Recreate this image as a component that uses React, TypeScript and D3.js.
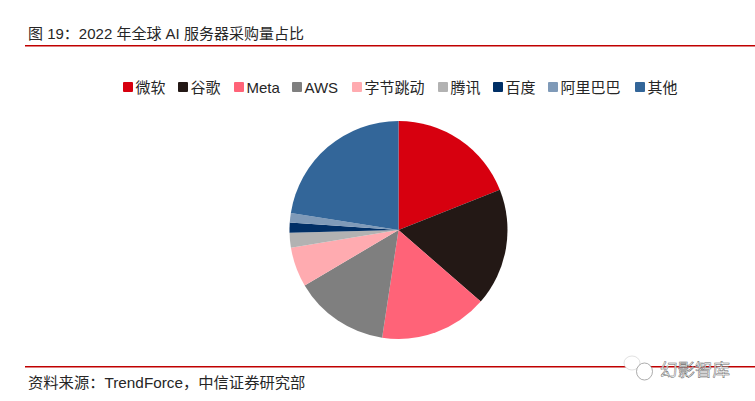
import React from 'react';
import * as d3 from 'd3';

const categories = ['微软', '谷歌', 'Meta', 'AWS', '字节跳动', '腾讯', '百度', '阿里巴巴', '其他'];
const shares = [19, 17.4, 16, 14.1, 5.9, 2.2, 1.5, 1.4, 22.5];
const colors = ['#d7000f', '#231815', '#ff6378', '#7f7f7f', '#ffabb0', '#b2b2b2', '#002f66', '#7f9ab8', '#336699'];
// left edge of each legend swatch
const legendX = [123, 178, 234, 292, 352, 438, 493, 548, 635];

const FONT = '"Liberation Sans", "Noto Sans CJK SC", sans-serif';

const App = () => {
  const pie = d3.pie<number>().sort(null).value(d => d);
  const arc = d3.arc<d3.PieArcDatum<number>>().innerRadius(0).outerRadius(109);
  const arcs = pie(shares);

  return (
    <svg
      width={755}
      height={401}
      style={{ position: 'absolute', left: 0, top: 0, background: '#fff' }}
      fontFamily={FONT}
    >
      <text x={28} y={39} fontSize={15} fill="#262626">图 19：2022 年全球 AI 服务器采购量占比</text>
      <rect x={25} y={45} width={730} height={1.5} fill="#c00000" />

      {categories.map((c, i) => (
        <g key={c}>
          <rect x={legendX[i]} y={82} width={10} height={10} rx={1} fill={colors[i]} />
          <text x={legendX[i] + 12.5} y={92.5} fontSize={15} fill="#262626">{c}</text>
        </g>
      ))}

      <g transform="translate(398.5,230)">
        {arcs.map((d, i) => (
          <path key={categories[i]} d={arc(d) ?? ''} fill={colors[i]} />
        ))}
      </g>

      <rect x={25} y={366} width={730} height={1.5} fill="#c00000" />
      <text x={28} y={388} fontSize={15.3} fill="#262626">资料来源：TrendForce，中信证券研究部</text>

      {/* watermark */}
      <g>
        <ellipse cx={632} cy={363} rx={8} ry={7} fill="#fff" stroke="#ccc" strokeWidth={0.6} />
        <ellipse cx={644.5} cy={371.5} rx={8} ry={8.5} fill="#fff" stroke="#888" strokeWidth={0.7} />
        <text x={660} y={376} fontSize={17.5} fill="#fff" stroke="#666" strokeWidth={0.5}>幻影智库</text>
      </g>
    </svg>
  );
};

export default App;
